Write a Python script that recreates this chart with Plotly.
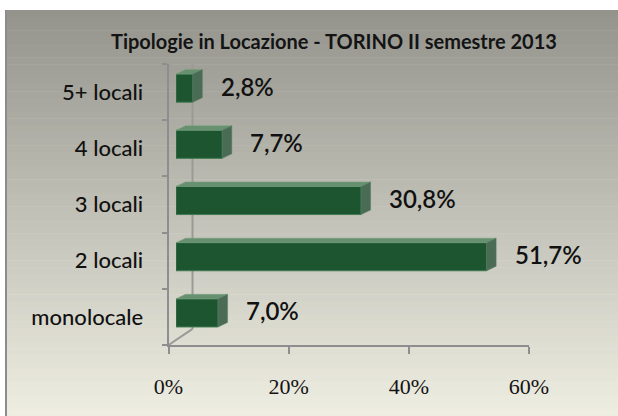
import plotly.graph_objects as go

# ---- data ----
categories = ["monolocale", "2 locali", "3 locali", "4 locali", "5+ locali"]
values = [7.0, 51.7, 30.8, 7.7, 2.8]
value_labels = ["7,0%", "51,7%", "30,8%", "7,7%", "2,8%"]
x_ticks = [0, 20, 40, 60]
x_tick_labels = ["0%", "20%", "40%", "60%"]
title_text = "Tipologie in Locazione - TORINO II semestre 2013"

W, H = 618, 416
def xp(px): return px / W
def yp(py): return 1 - py / H

idx = list(range(len(categories)))
shapes = []

# background gradient panel
top_c = (148, 148, 141)
bot_c = (238, 237, 225)
n = 60
y0, y1 = 10, 416
for i in range(n):
    t = i / (n - 1)
    c = tuple(int(round(top_c[k] + (bot_c[k] - top_c[k]) * t)) for k in range(3))
    a = y0 + (y1 - y0) * i / n
    b = y0 + (y1 - y0) * (i + 1) / n
    shapes.append(dict(type="rect", xref="paper", yref="paper", x0=xp(6), x1=xp(618),
                       y0=yp(b + 0.5), y1=yp(a), line=dict(width=0),
                       fillcolor="rgb(%d,%d,%d)" % c, layer="below"))
shapes.append(dict(type="rect", xref="paper", yref="paper", x0=xp(5), x1=xp(7),
                   y0=yp(416), y1=yp(10), line=dict(width=0), fillcolor="#8c8c8c", layer="below"))

# 3D wall lines (behind bars)
wall_col = "#9a9a96"
bdx = 24 / 6.0      # x units
bdy = 16 / 56.0     # category units
shapes.append(dict(type="line", xref="x", yref="y", x0=0, y0=-0.5, x1=bdx, y1=-0.5 + bdy,
                   line=dict(color=wall_col, width=2), layer="below"))
shapes.append(dict(type="line", xref="x", yref="y", x0=bdx, y0=-0.5 + bdy, x1=bdx, y1=4.5 + 11 / 56.0,
                   line=dict(color=wall_col, width=2), layer="below"))
shapes.append(dict(type="line", xref="x", yref="y", x0=0, y0=4.5, x1=bdx, y1=4.5 + 11 / 56.0,
                   line=dict(color=wall_col, width=2), layer="below"))

# 3D faces of the bars
dx = 9.5 / 6.0
dy = 4.5 / 56.0
h = 0.25
for yi, v in zip(idx, values):
    top = "M 0,{a} L {dx},{b} L {vx},{b} L {v},{a} Z".format(a=yi + h, b=yi + h + dy, dx=dx, vx=v + dx, v=v)
    side = "M {v},{a0} L {vx},{b0} L {vx},{b1} L {v},{a1} Z".format(v=v, vx=v + dx, a0=yi - h, b0=yi - h + dy,
                                                                     a1=yi + h, b1=yi + h + dy)
    shapes.append(dict(type="path", xref="x2", yref="y2", path=top, fillcolor="#66906f",
                       line=dict(width=0.5, color="#7aa283"), layer="above"))
    shapes.append(dict(type="path", xref="x2", yref="y2", path=side, fillcolor="#4a6c55",
                       line=dict(width=0.5, color="#567a60"), layer="above"))

fig = go.Figure()
fig.add_trace(go.Bar(x=values, y=idx, orientation="h", width=0.5, xaxis="x2", yaxis="y2",
                     marker=dict(color="#1d5530", line=dict(color="#3f7a50", width=1)),
                     hoverinfo="skip"))

annotations = []
for yi, v, lab in zip(idx, values, value_labels):
    annotations.append(dict(x=v, y=yi, xref="x2", yref="y2", text=lab, showarrow=False,
                            xanchor="left", yanchor="middle", xshift=26, yshift=2,
                            font=dict(family="Lato", size=24, color="#111111", weight=600)))
annotations.append(dict(x=xp(334), y=yp(41), xref="paper", yref="paper", text=title_text,
                        showarrow=False, xanchor="center", yanchor="middle",
                        font=dict(family="Lato", size=20, color="#141414", weight="bold")))

axis_col = "#8e8e8e"
fig.update_layout(
    width=W, height=H, autosize=False, margin=dict(l=0, r=0, t=0, b=0, pad=0),
    paper_bgcolor="white", plot_bgcolor="rgba(0,0,0,0)",
    showlegend=False, shapes=shapes, annotations=annotations,
    xaxis=dict(domain=[xp(168.5), xp(529)], range=[0, 60], tickvals=x_ticks, ticktext=x_tick_labels,
               showgrid=False, zeroline=False, showline=True, linecolor=axis_col, linewidth=2,
               ticks="outside", ticklen=7, tickwidth=2, tickcolor=axis_col, anchor="y",
               ticklabelstandoff=14, automargin=False,
               tickfont=dict(family="Liberation Serif", size=22, color="#141414")),
    yaxis=dict(domain=[yp(345), yp(64)], range=[-0.5, 4.5], tickvals=idx, ticktext=categories,
               showgrid=False, zeroline=False, showline=True, linecolor=axis_col, linewidth=2,
               ticks="", ticklabelstandoff=19, anchor="x", automargin=False,
               minor=dict(tickvals=[i - 0.5 for i in idx] + [idx[-1] + 0.5], ticks="outside",
                          ticklen=5, tickwidth=2, tickcolor=axis_col),
               tickfont=dict(family="Lato", size=22, color="#111111", weight=500)),
    xaxis2=dict(domain=[xp(176), xp(536.5)], range=[0, 60], anchor="y2",
                visible=False, automargin=False, showgrid=False, zeroline=False),
    yaxis2=dict(domain=[yp(341), yp(60)], range=[-0.5, 4.5], anchor="x2",
                visible=False, automargin=False, showgrid=False, zeroline=False),
)

fig.write_html("out.html", config={"responsive": False, "displayModeBar": False},
               post_script="document.body.style.margin='0';document.body.style.overflow='hidden';")
